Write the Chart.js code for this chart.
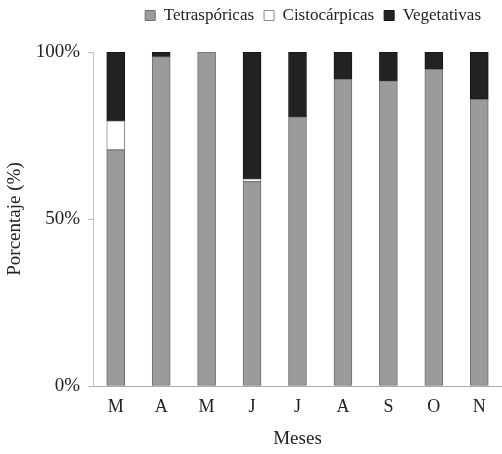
<!DOCTYPE html>
<html>
<head>
<meta charset="utf-8">
<script src="https://cdn.jsdelivr.net/npm/chart.js@4"></script>
<style>
  html, body { margin: 0; padding: 0; background: #fff; }
  #wrap { width: 502px; height: 454px; }
</style>
</head>
<body>
<div id="wrap"><canvas id="chart"></canvas></div>
<script>
const months = ["M", "A", "M", "J", "J", "A", "S", "O", "N"];
const tetrasporicas = [70.7, 98.6, 100, 61.2, 80.6, 91.9, 91.4, 94.9, 85.8];
const cistocarpicas = [8.7, 0, 0, 0.8, 0, 0, 0, 0, 0];
const vegetativas = [20.6, 1.4, 0, 38.0, 19.4, 8.1, 8.6, 5.1, 14.2];

const serif = "'Liberation Serif', 'Times New Roman', serif";
const ink = "#222";

// extra room under the legend, and nudge it a bit left from the edge
const legendGap = {
  id: "legendGap",
  beforeLayout(chart) {
    const lg = chart.legend;
    if (!lg || lg._patched) return;
    const fit = lg.fit;
    lg.fit = function () { fit.call(this); this.height += 18; };
    const draw = lg.draw;
    lg.draw = function () {
      const c = this.ctx;
      c.save();
      c.translate(-11, 0);
      draw.call(this);
      c.restore();
    };
    lg._patched = true;
  }
};

const ctx = document.getElementById("chart").getContext("2d");

const chart = new Chart(ctx, {
  type: "bar",
  data: {
    labels: months,
    datasets: [
      { label: "Tetraspóricas", data: tetrasporicas, backgroundColor: "#9b9b9b", borderColor: "#6e6e6e", borderWidth: 1 },
      { label: "Cistocárpicas", data: cistocarpicas, backgroundColor: "#ffffff", borderColor: "#8a8a8a", borderWidth: 1 },
      { label: "Vegetativas", data: vegetativas, backgroundColor: "#222222", borderColor: "#151515", borderWidth: 1 }
    ]
  },
  plugins: [legendGap],
  options: {
    responsive: true,
    maintainAspectRatio: false,
    animation: false,
    layout: { padding: { left: 0, right: 0, top: -3, bottom: 0 } },
    datasets: { bar: { barThickness: 18, borderSkipped: false } },
    plugins: {
      tooltip: { enabled: false },
      legend: {
        position: "top",
        align: "end",
        labels: {
          color: ink,
          font: { family: serif, size: 17 },
          boxWidth: 10,
          boxHeight: 10,
          padding: 10
        }
      }
    },
    scales: {
      x: {
        stacked: true,
        grid: { drawOnChartArea: false, drawTicks: false },
        border: { color: "#aaa" },
        ticks: { color: ink, font: { family: serif, size: 18 }, padding: 10 },
        title: { display: true, text: "Meses", color: ink, font: { family: serif, size: 19 }, padding: { top: 18 } },
        afterFit: (scale) => { scale.height = 68; }
      },
      y: {
        stacked: true,
        min: 0,
        max: 100,
        grid: { drawOnChartArea: false, drawTicks: true, tickLength: 5, color: "#bbb" },
        border: { color: "#c4c4c4" },
        ticks: { stepSize: 50, color: ink, font: { family: serif, size: 19 }, padding: 8, callback: (v) => v + "%" },
        title: { display: true, text: "Porcentaje (%)", color: ink, font: { family: serif, size: 19 }, padding: { top: 4, bottom: 4 } },
        afterFit: (scale) => { scale.width = 93; }
      }
    }
  }
});
</script>
</body>
</html>
